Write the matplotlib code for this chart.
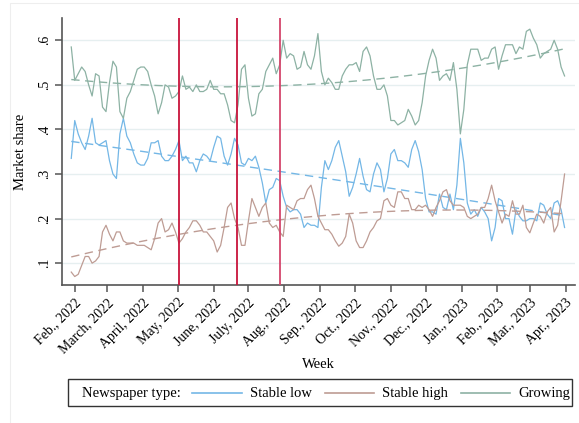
import numpy as np
import pandas as pd
import matplotlib
matplotlib.use("Agg")
import matplotlib.pyplot as plt
from matplotlib.lines import Line2D
from matplotlib.patches import Rectangle

# market shares, sampled every 3 days from 2022-01-29
start_date = "2022-01-29"
step = "3D"

stable_low = [
    .335, .42, .39, .37, .355, .385, .425, .37, .365, .37,
    .375, .33, .30, .29, .39, .425, .385, .37, .345, .325,
    .32, .32, .335, .37, .37, .375, .34, .33, .33, .34,
    .355, .375, .33, .34, .325, .325, .305, .33, .345, .34,
    .33, .36, .385, .38, .34, .32, .345, .38, .365, .325,
    .32, .335, .33, .34, .315, .28, .235, .265, .27, .29,
    .285, .25, .225, .215, .22, .22, .21, .18, .19, .185,
    .185, .18, .27, .33, .31, .33, .36, .375, .34, .305,
    .25, .27, .30, .335, .295, .265, .26, .30, .325, .31,
    .26, .29, .345, .355, .33, .33, .325, .315, .355, .375,
    .35, .31, .245, .215, .215, .21, .255, .225, .22, .255,
    .22, .275, .38, .325, .235, .21, .22, .205, .225, .215,
    .20, .15, .18, .245, .24, .20, .20, .165, .22, .205,
    .195, .195, .20, .20, .195, .235, .23, .21, .20, .235,
    .24, .22, .18,
]

stable_high = [
    .08, .07, .075, .095, .115, .115, .10, .105, .115, .17,
    .185, .165, .15, .17, .17, .15, .145, .145, .145, .14,
    .14, .14, .135, .13, .155, .19, .20, .17, .175, .19,
    .17, .145, .155, .17, .18, .195, .195, .185, .17, .17,
    .16, .15, .125, .14, .18, .225, .235, .20, .18, .14,
    .14, .195, .245, .225, .205, .225, .235, .19, .18, .185,
    .17, .16, .23, .225, .22, .24, .245, .245, .265, .275,
    .245, .205, .19, .175, .175, .165, .15, .138, .145, .16,
    .21, .19, .15, .135, .135, .15, .17, .18, .195, .20,
    .24, .245, .23, .225, .26, .26, .245, .245, .22, .22,
    .23, .225, .23, .22, .205, .225, .24, .26, .265, .24,
    .23, .23, .23, .225, .205, .20, .205, .21, .225, .225,
    .245, .275, .24, .215, .19, .21, .205, .24, .21, .21,
    .23, .18, .168, .19, .21, .205, .19, .215, .225, .17,
    .185, .24, .30,
]

growing = [
    .585, .51, .525, .54, .53, .50, .475, .525, .52, .45,
    .44, .505, .553, .54, .44, .425, .47, .485, .51, .535,
    .54, .54, .53, .50, .475, .435, .46, .50, .495, .47,
    .475, .485, .52, .49, .495, .485, .50, .485, .485, .49,
    .51, .49, .49, .48, .48, .455, .42, .415, .455, .535,
    .545, .47, .43, .435, .48, .49, .53, .545, .56, .525,
    .545, .60, .56, .57, .565, .535, .54, .575, .545, .535,
    .565, .615, .53, .50, .515, .505, .49, .49, .52, .535,
    .545, .545, .55, .53, .575, .585, .565, .52, .49, .49,
    .50, .475, .42, .42, .41, .415, .42, .445, .43, .41,
    .42, .46, .52, .555, .58, .56, .51, .52, .525, .51,
    .55, .49, .39, .445, .545, .58, .58, .58, .555, .56,
    .56, .58, .585, .535, .565, .59, .59, .59, .57, .585,
    .58, .62, .625, .605, .59, .56, .57, .575, .58, .60,
    .58, .54, .52,
]

series_names = ["Stable low", "Stable high", "Growing"]
series_colors = ["#74B7E6", "#BE9C94", "#8DB2A4"]

event_dates = ["2022-05-02", "2022-06-21", "2022-07-28"]
event_colors = ["#C8143C", "#C8143C", "#D4466C"]

month_ticks = pd.date_range("2022-02-01", "2023-04-01", freq="MS")
month_labels = ["Feb., 2022", "March, 2022", "April, 2022", "May, 2022",
                "June, 2022", "July, 2022", "Aug., 2022", "Sep., 2022",
                "Oct., 2022", "Nov., 2022", "Dec., 2022", "Jan., 2023",
                "Feb., 2023", "Mar., 2023", "Apr., 2023"]

y_ticks = [.1, .2, .3, .4, .5, .6]
y_labels = [".1", ".2", ".3", ".4", ".5", ".6"]

plt.rcParams['font.family'] = ['Liberation Serif', 'DejaVu Serif']

W, H = 579, 423
fig = plt.figure(figsize=(W / 100, H / 100), dpi=100)
ax = fig.add_axes([62 / W, 1 - 285 / H, (575 - 62) / W, (285 - 18) / H])

# faint outer frame
fig.add_artist(Rectangle((9.5 / W, -0.1), 1.2, 1 - 3.5 / H + 0.1, transform=fig.transFigure,
                         fill=False, edgecolor="#EEEEEE", linewidth=0.8))

all_series = [stable_low, stable_high, growing]
dates = pd.date_range(start_date, periods=len(growing), freq=step)
days = np.asarray((dates - dates[0]).days, dtype=float)

for vals, col in zip(all_series, series_colors):
    vals = np.array(vals)
    ax.plot(dates, vals, color=col, linewidth=0.9, zorder=3)
    # quadratic trend
    coef = np.polyfit(days, vals, 2)
    ax.plot(dates, np.polyval(coef, days), color=col, linewidth=1.0,
            linestyle=(0, (6, 4)), zorder=3)

for d, c in zip(event_dates, event_colors):
    ax.axvline(pd.Timestamp(d), color=c, linewidth=1.3, zorder=4)

ax.set_xlim(pd.Timestamp("2022-01-21"), pd.Timestamp("2023-04-09"))
ax.set_ylim(0.051, 0.65)

ax.set_yticks(y_ticks)
ax.set_yticklabels(y_labels, rotation=90, va="center", fontsize=10)
ax.set_xticks(month_ticks)
ax.set_xticklabels(month_labels, rotation=45, ha="right", rotation_mode="anchor", fontsize=10)

ax.grid(axis="y", color="#E6EFF0", linewidth=1.0)
ax.set_axisbelow(True)
for s in ["top", "right"]:
    ax.spines[s].set_visible(False)
for s in ["left", "bottom"]:
    ax.spines[s].set_color("#555555")
    ax.spines[s].set_linewidth(1.2)
ax.tick_params(direction="out", length=5, width=1.1, color="#555555", pad=3)

ax.set_ylabel("Market share", fontsize=10.5, labelpad=8)
ax.set_xlabel("Week", fontsize=10.5, labelpad=2)

# legend box drawn in figure pixels
def fx(x):
    return x / W

def fy(y):
    return 1 - y / H

fig.add_artist(Rectangle((fx(68), fy(406)), fx(572) - fx(68), fy(379) - fy(406),
                         transform=fig.transFigure, fill=False, edgecolor="#333333", linewidth=1.0))
ly = fy(393)
fig.text(fx(82), ly, "Newspaper type:", fontsize=10.5, va="center", ha="left")
handle_x = [(192, 242), (325, 374), (461, 510)]
for (x0, x1), name, col in zip(handle_x, series_names, series_colors):
    fig.add_artist(Line2D([fx(x0), fx(x1)], [ly, ly], color=col, linewidth=1.2,
                          transform=fig.transFigure))
    fig.text(fx(x1 + 8), ly, name, fontsize=10.5, va="center", ha="left")

fig.savefig("out.png", dpi=100)
